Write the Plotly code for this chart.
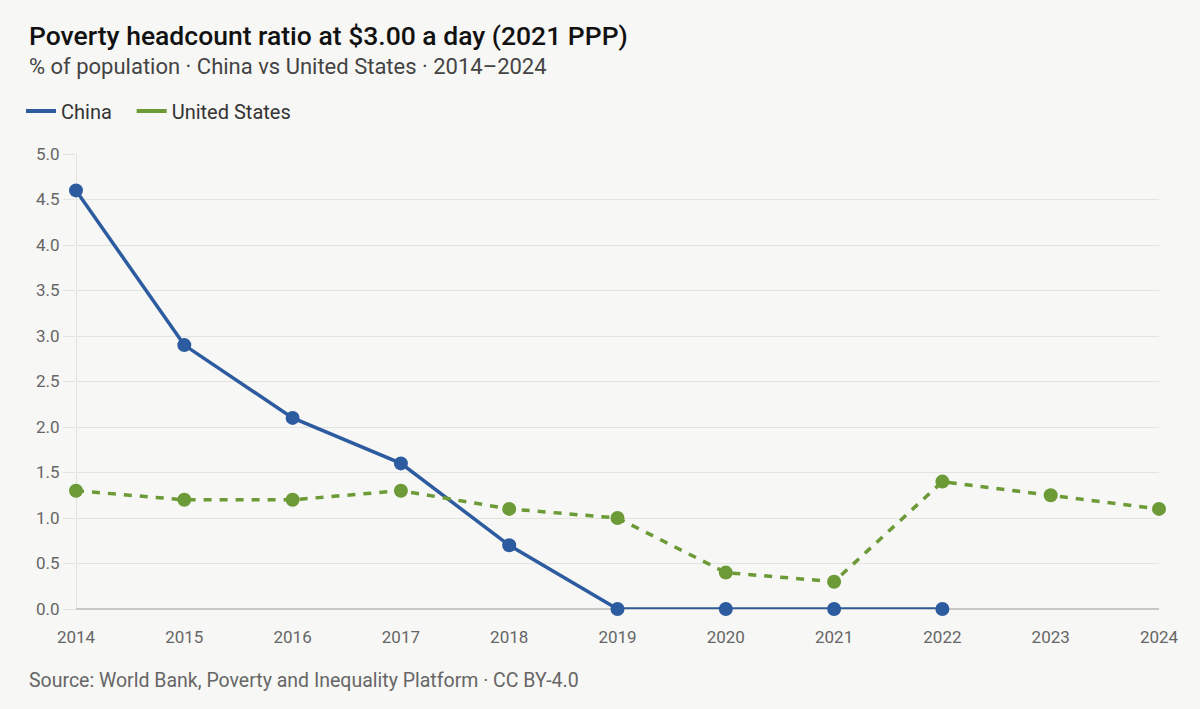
import plotly.graph_objects as go

years = [2014, 2015, 2016, 2017, 2018, 2019, 2020, 2021, 2022, 2023, 2024]
china_years = [2014, 2015, 2016, 2017, 2018, 2019, 2020, 2021, 2022]
china_values = [4.6, 2.9, 2.1, 1.6, 0.7, 0.0, 0.0, 0.0, 0.0]
us_values = [1.3, 1.2, 1.2, 1.3, 1.1, 1.0, 0.4, 0.3, 1.4, 1.25, 1.1]
y_ticks = [0, 0.5, 1, 1.5, 2, 2.5, 3, 3.5, 4, 4.5, 5]

TITLE = "Poverty headcount ratio at $3.00 a day (2021 PPP)"
SUBTITLE = "% of population · China vs United States · 2014–2024"
SOURCE = "Source: World Bank, Poverty and Inequality Platform · CC BY-4.0"

BLUE = "#2d5b9f"
GREEN = "#6b9a36"
BG = "#f7f7f5"
FONT = "Roboto"

W, H = 1200, 709
pl, pr, pt, pb = 76, 41, 154, 100
pw, ph = W - pl - pr, H - pt - pb


def px_x(x):
    return (x - pl) / pw


def px_y(y):
    return (H - y - pb) / ph


fig = go.Figure()
fig.add_trace(go.Scatter(x=china_years, y=china_values, mode="lines+markers",
                         line=dict(color=BLUE, width=3.5), marker=dict(size=14, color=BLUE),
                         cliponaxis=False, showlegend=False, name="China"))
fig.add_trace(go.Scatter(x=years, y=us_values, mode="lines+markers",
                         line=dict(color=GREEN, width=3.5, dash="8px,8px"), marker=dict(size=14, color=GREEN),
                         cliponaxis=False, showlegend=False, name="United States"))
# legend entries (solid swatches)
fig.add_trace(go.Scatter(x=[None], y=[None], mode="lines", line=dict(color=BLUE, width=4),
                         name="China\u00a0\u00a0\u00a0"))
fig.add_trace(go.Scatter(x=[None], y=[None], mode="lines", line=dict(color=GREEN, width=4),
                         name="United States"))

fig.update_layout(
    width=W, height=H,
    paper_bgcolor=BG, plot_bgcolor=BG,
    margin=dict(l=pl, r=pr, t=pt, b=pb),
    font=dict(family=FONT, color="#555"),
    showlegend=True,
    legend=dict(orientation="h", x=px_x(21), xanchor="left",
                y=(H - 111) / H, yref="container", yanchor="middle",
                font=dict(size=20, color="#333"), itemwidth=30,
                bgcolor="rgba(0,0,0,0)"),
    xaxis=dict(range=[2014, 2024], tickvals=years, ticktext=[str(y) for y in years],
               showgrid=False, zeroline=False, showline=False, ticks="",
               ticklabelstandoff=16,
               tickfont=dict(size=17, color="#666")),
    yaxis=dict(range=[0, 5], tickvals=y_ticks, ticktext=[f"{v:.1f}" for v in y_ticks],
               showgrid=True, gridcolor="#e3e3e1", gridwidth=1,
               zeroline=True, zerolinecolor="#c8c8c6", zerolinewidth=1.5,
               ticks="outside", ticklen=12, tickcolor="#e3e3e1",
               showline=False, tickfont=dict(size=17, color="#666")),
    annotations=[
        dict(text=TITLE, x=px_x(27), y=px_y(35), xref="paper", yref="paper",
             showarrow=False, xanchor="left", yanchor="middle",
             font=dict(size=26.5, color="#111", family=FONT, weight=500)),
        dict(text=SUBTITLE, x=px_x(27), y=px_y(66), xref="paper", yref="paper",
             showarrow=False, xanchor="left", yanchor="middle",
             font=dict(size=22, color="#444", family=FONT)),
        dict(text=SOURCE, x=px_x(27), y=px_y(680), xref="paper", yref="paper",
             showarrow=False, xanchor="left", yanchor="middle",
             font=dict(size=19.5, color="#666", family=FONT)),
    ],
)

# vertical axis line at 2014
fig.add_shape(type="line", xref="x", yref="paper", x0=2014, x1=2014, y0=0, y1=1,
              line=dict(color="#dddddb", width=1.5), layer="below")

fig.write_html("out.html", config={"displayModeBar": False},
               post_script="document.body.style.margin='0';document.body.style.background='%s';" % BG)
